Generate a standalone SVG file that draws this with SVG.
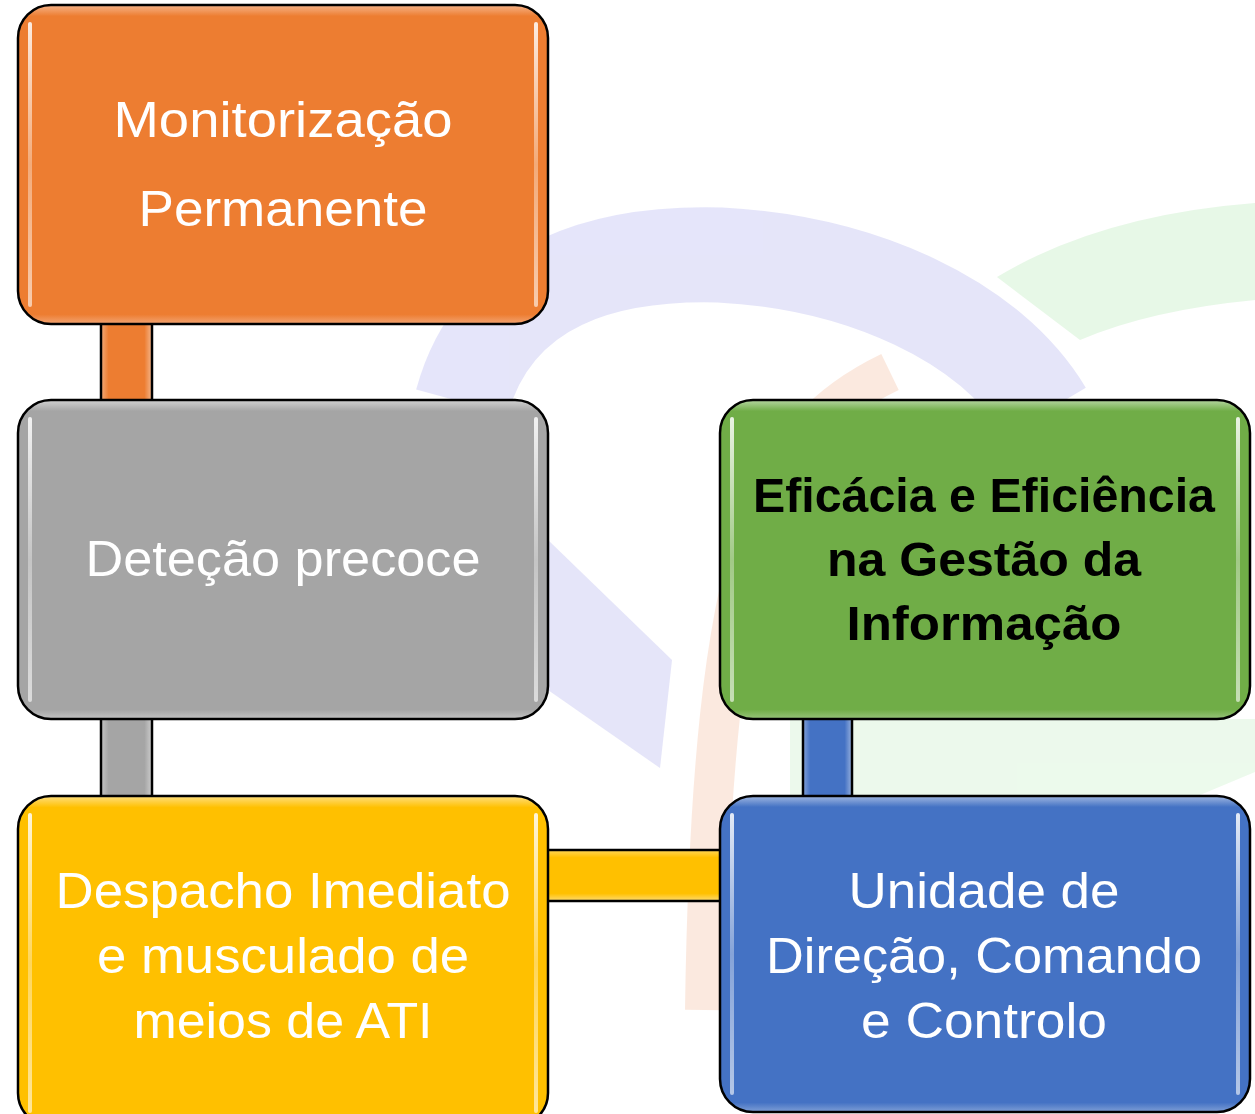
<svg xmlns="http://www.w3.org/2000/svg" width="1255" height="1114" viewBox="0 0 1255 1114">
<defs>
<linearGradient id="gO" x1="0" y1="0" x2="0" y2="1"><stop offset="0" stop-color="#f6b48a"/><stop offset="0.035" stop-color="#ED7D31"/><stop offset="0.97" stop-color="#ED7D31"/><stop offset="1" stop-color="#f3a574"/></linearGradient>
<linearGradient id="gG" x1="0" y1="0" x2="0" y2="1"><stop offset="0" stop-color="#d2d2d2"/><stop offset="0.035" stop-color="#A5A5A5"/><stop offset="0.97" stop-color="#A5A5A5"/><stop offset="1" stop-color="#c4c4c4"/></linearGradient>
<linearGradient id="gY" x1="0" y1="0" x2="0" y2="1"><stop offset="0" stop-color="#ffdf80"/><stop offset="0.035" stop-color="#FFC000"/><stop offset="0.97" stop-color="#FFC000"/><stop offset="1" stop-color="#ffd450"/></linearGradient>
<linearGradient id="gV" x1="0" y1="0" x2="0" y2="1"><stop offset="0" stop-color="#b6d6a2"/><stop offset="0.035" stop-color="#70AD47"/><stop offset="0.97" stop-color="#70AD47"/><stop offset="1" stop-color="#98c47b"/></linearGradient>
<linearGradient id="gB" x1="0" y1="0" x2="0" y2="1"><stop offset="0" stop-color="#a1b8e1"/><stop offset="0.035" stop-color="#4472C4"/><stop offset="0.97" stop-color="#4472C4"/><stop offset="1" stop-color="#7f9fd6"/></linearGradient>
<linearGradient id="hl" x1="0" y1="0" x2="0" y2="1"><stop offset="0" stop-color="#fff" stop-opacity="0.85"/><stop offset="0.5" stop-color="#fff" stop-opacity="0.35"/><stop offset="1" stop-color="#fff" stop-opacity="0.6"/></linearGradient>
<linearGradient id="cv" x1="0" y1="0" x2="1" y2="0"><stop offset="0" stop-color="#fff" stop-opacity="0.35"/><stop offset="0.15" stop-color="#fff" stop-opacity="0"/><stop offset="0.85" stop-color="#fff" stop-opacity="0"/><stop offset="1" stop-color="#fff" stop-opacity="0.45"/></linearGradient>
<linearGradient id="ch" x1="0" y1="0" x2="0" y2="1"><stop offset="0" stop-color="#fff" stop-opacity="0.35"/><stop offset="0.15" stop-color="#fff" stop-opacity="0"/><stop offset="0.85" stop-color="#fff" stop-opacity="0"/><stop offset="1" stop-color="#fff" stop-opacity="0.45"/></linearGradient>
</defs>
<style>
.box{stroke:#000;stroke-width:2.5}
.hl{fill:url(#hl)}
.t{font-family:"Liberation Sans",Arial,sans-serif;font-size:50px;fill:#fff;text-anchor:middle}
.tb{font-family:"Liberation Sans",Arial,sans-serif;font-size:48px;font-weight:bold;fill:#000;text-anchor:middle}
.edge{stroke:#000;stroke-width:2.5}
</style>
<rect width="1255" height="1114" fill="#fff"/>
<g id="watermark" opacity="0.6">
<path d="M462 402 C 495 280, 610 252, 720 255 C 860 262, 990 320, 1045 412" fill="none" stroke="#d4d4f6" stroke-width="95"/>
<polygon points="548,540 672,660 660,768 548,690" fill="#d4d4f6"/>
<path d="M997 277 Q 1100 215 1255 203 L 1255 300 Q 1150 310 1080 340 Z" fill="#d8f4d8"/>
<polygon points="790,719 1255,719 1255,772 1200,795 790,795" fill="#e0f6e0"/>
<path d="M890 372 C 770 430, 712 530, 705 1010" fill="none" stroke="#fadccb" stroke-width="40"/>
</g>
<g id="connectors">
<rect x="101" y="322" width="51" height="80" fill="#ED7D31"/><rect x="101" y="322" width="51" height="80" fill="url(#cv)"/>
<line class="edge" x1="101" y1="322" x2="101" y2="402"/><line class="edge" x1="152" y1="322" x2="152" y2="402"/>
<rect x="101" y="717" width="51" height="81" fill="#A5A5A5"/><rect x="101" y="717" width="51" height="81" fill="url(#cv)"/>
<line class="edge" x1="101" y1="717" x2="101" y2="798"/><line class="edge" x1="152" y1="717" x2="152" y2="798"/>
<rect x="546" y="850" width="176" height="51" fill="#FFC000"/><rect x="546" y="850" width="176" height="51" fill="url(#ch)"/>
<line class="edge" x1="546" y1="850" x2="722" y2="850"/><line class="edge" x1="546" y1="901" x2="722" y2="901"/>
<rect x="803" y="718" width="49" height="80" fill="#4472C4"/><rect x="803" y="718" width="49" height="80" fill="url(#cv)"/>
<line class="edge" x1="803" y1="718" x2="803" y2="798"/><line class="edge" x1="852" y1="718" x2="852" y2="798"/>
</g>
<g id="n1">
<rect class="box" x="18" y="5" width="530" height="319" rx="33" fill="url(#gO)"/>
<rect class="hl" x="28" y="22" width="4" height="285" rx="2"/><rect class="hl" x="534" y="22" width="4" height="285" rx="2"/>
<text class="t" x="283" y="137" textLength="339" lengthAdjust="spacingAndGlyphs">Monitorização</text>
<text class="t" x="283" y="226" textLength="289" lengthAdjust="spacingAndGlyphs">Permanente</text>
</g>
<g id="n2">
<rect class="box" x="18" y="400" width="530" height="319" rx="33" fill="url(#gG)"/>
<rect class="hl" x="28" y="417" width="4" height="285" rx="2"/><rect class="hl" x="534" y="417" width="4" height="285" rx="2"/>
<text class="t" x="283" y="576" textLength="395" lengthAdjust="spacingAndGlyphs">Deteção precoce</text>
</g>
<g id="n3">
<rect class="box" x="18" y="796" width="530" height="330" rx="33" fill="url(#gY)"/>
<rect class="hl" x="28" y="813" width="4" height="300" rx="2"/><rect class="hl" x="534" y="813" width="4" height="300" rx="2"/>
<text class="t" x="283" y="908" textLength="455" lengthAdjust="spacingAndGlyphs">Despacho Imediato</text>
<text class="t" x="283" y="973" textLength="372" lengthAdjust="spacingAndGlyphs">e musculado de</text>
<text class="t" x="283" y="1038" textLength="299" lengthAdjust="spacingAndGlyphs">meios de ATI</text>
</g>
<g id="n4">
<rect class="box" x="720" y="400" width="530" height="319" rx="33" fill="url(#gV)"/>
<rect class="hl" x="730" y="417" width="4" height="285" rx="2"/><rect class="hl" x="1236" y="417" width="4" height="285" rx="2"/>
<text class="tb" x="984" y="512" textLength="462" lengthAdjust="spacingAndGlyphs">Eficácia e Eficiência</text>
<text class="tb" x="984" y="576" textLength="314" lengthAdjust="spacingAndGlyphs">na Gestão da</text>
<text class="tb" x="984" y="640" textLength="275" lengthAdjust="spacingAndGlyphs">Informação</text>
</g>
<g id="n5">
<rect class="box" x="720" y="796" width="530" height="316" rx="33" fill="url(#gB)"/>
<rect class="hl" x="730" y="813" width="4" height="282" rx="2"/><rect class="hl" x="1236" y="813" width="4" height="282" rx="2"/>
<text class="t" x="984" y="908" textLength="271" lengthAdjust="spacingAndGlyphs">Unidade de</text>
<text class="t" x="984" y="973" textLength="436" lengthAdjust="spacingAndGlyphs">Direção, Comando</text>
<text class="t" x="984" y="1038" textLength="246" lengthAdjust="spacingAndGlyphs">e Controlo</text>
</g>
</svg>
